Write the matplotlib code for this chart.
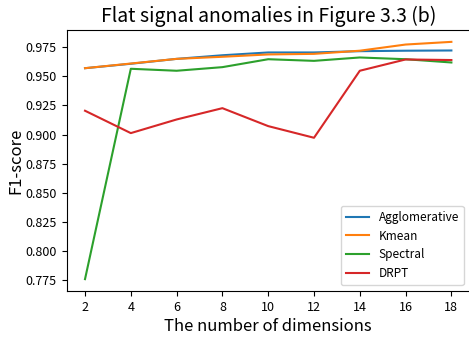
import matplotlib
matplotlib.use("Agg")
import matplotlib.pyplot as plt

plt.rcParams['font.family'] = ['Noto Sans CJK KR', 'DejaVu Sans']

dims = [2, 4, 6, 8, 10, 12, 14, 16, 18]
agglomerative = [0.957, 0.9608, 0.965, 0.9681, 0.9705, 0.9705, 0.9716, 0.972, 0.9722]
kmean = [0.957, 0.961, 0.965, 0.9668, 0.9688, 0.9693, 0.972, 0.9773, 0.9796]
spectral = [0.776, 0.9565, 0.9548, 0.9579, 0.9647, 0.9633, 0.9662, 0.9647, 0.9619]
drpt = [0.9205, 0.9013, 0.913, 0.9227, 0.9073, 0.8973, 0.9548, 0.9645, 0.964]

fig = plt.figure(figsize=(4.69, 3.37), dpi=100)
ax = fig.add_axes([0.1422, 0.1365, 0.8593, 0.7745])
ax.plot(dims, agglomerative, color='#1f77b4', label='Agglomerative')
ax.plot(dims, kmean, color='#ff7f0e', label='Kmean')
ax.plot(dims, spectral, color='#2ca02c', label='Spectral')
ax.plot(dims, drpt, color='#d62728', label='DRPT')

ax.set_xticks(dims)
ax.set_title('Flat signal anomalies in Figure 3.3 (b)', fontsize=14)
ax.set_xlabel('The number of dimensions', fontsize=12, labelpad=3)
ax.set_ylabel('F1-score', fontsize=12, labelpad=1)
ax.tick_params(labelsize=9)
ax.legend(loc='lower right', fontsize=8.5)

fig.savefig('out.png', dpi=100)
